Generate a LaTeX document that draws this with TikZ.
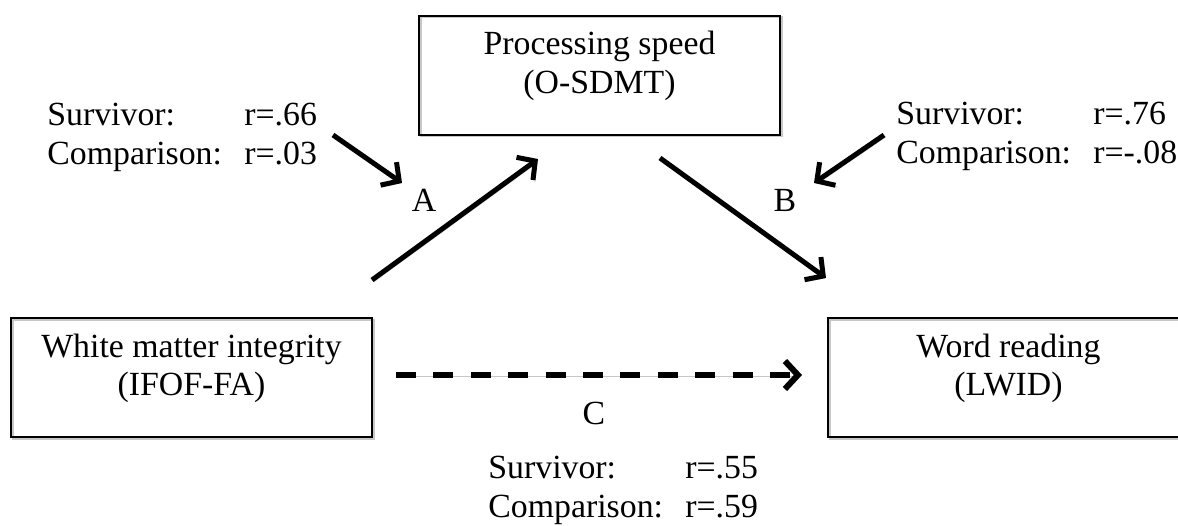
\documentclass[tikz,border=0pt]{standalone}
\usepackage{fontspec}
\setmainfont{Liberation Serif}
\usetikzlibrary{arrows.meta}
\begin{document}
\begin{tikzpicture}[x=0.5pt,y=-0.5pt,
  every node/.style={font=\fontsize{16.9}{19.2}\selectfont, inner sep=0pt},
  shadowed/.style={preaction={draw=black!22, transform canvas={xshift=0.9pt,yshift=-0.9pt}}},
  varbox/.style={draw=black, line width=1pt, minimum width=180.5pt, minimum height=59.5pt, shadowed},
  arr/.style={line width=2.5pt, -{Straight Barb[length=6.5pt,width=14pt]}, shadowed},
  darr/.style={arr, line width=3pt, dash pattern=on 10pt off 8.7pt},
  stat/.style={align=left, anchor=west},
  vartext/.style={align=center}
]
\useasboundingbox (0,0) rectangle (1178,525);
\clip (0,0) rectangle (1178,525);

% boxes
\node[varbox] (ps) at (599.5,75) {};
\node[varbox] (wm) at (191.5,377.5) {};
\node[varbox] (wr) at (1008.5,377.5) {};
\node[vartext] (pst) at (599.5,66) {Processing speed\\(O-SDMT)};
\node[vartext] (wmt) at (191.5,368.5) {White matter integrity\\(IFOF-FA)};
\node[vartext] (wrt) at (1008.5,368.5) {Word reading\\(LWID)};

% statistics
\node[stat] (sa) at (47,137.5) {\makebox[98.5pt][l]{Survivor:}r=.66\\\makebox[98.5pt][l]{Comparison:}r=.03};
\node[stat] (sb) at (896,136.5) {\makebox[98.5pt][l]{Survivor:}r=.76\\\makebox[98.5pt][l]{Comparison:}r=-.08};
\node[stat] (sc) at (488,490.5) {\makebox[98.5pt][l]{Survivor:}r=.55\\\makebox[98.5pt][l]{Comparison:}r=.59};

% path labels
\node (la) at (424,200) {A};
\node (lb) at (785,200) {B};
\node (lc) at (594,413) {C};

% connector end points
\coordinate (aS) at (372,280);
\coordinate (aE) at (538,159);
\coordinate (bS) at (660,158);
\coordinate (bE) at (826,278);
\coordinate (sa1) at (333,135);
\coordinate (sa2) at (402,183);
\coordinate (sb1) at (884,135);
\coordinate (sb2) at (814,183);
\coordinate (cS) at (396,375);
\coordinate (cE) at (802,375);

\draw[arr] (aS) -- (aE);
\draw[arr] (bS) -- (bE);
\draw[arr] (sa1) -- (sa2);
\draw[arr] (sb1) -- (sb2);
\draw[darr] (cS) -- (cE);
\end{tikzpicture}
\end{document}
